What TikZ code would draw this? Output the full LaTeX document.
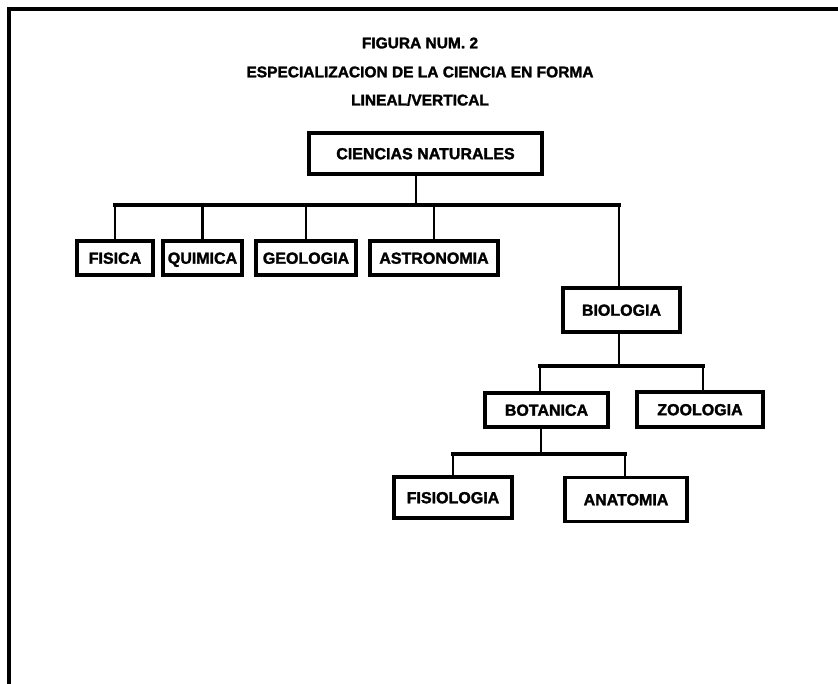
\documentclass[tikz,border=0pt]{standalone}
\usepackage{fontspec}
\setmainfont[BoldFeatures={FakeBold=1.8}]{Liberation Sans}
\begin{document}
\begin{tikzpicture}[x=1pt,y=-1pt,
  frameline/.style={line width=3.2pt},
  titletext/.style={font=\bfseries\fontsize{15.5}{18}\selectfont, inner sep=0pt},
  box/.style={draw, line width=3.4pt, font=\bfseries\fontsize{16}{19}\selectfont, inner sep=0pt, text height=11.5pt, text depth=0pt, anchor=center},
  vline/.style={line width=2.8pt},
  hline/.style={line width=3.8pt, line cap=rect}]
\useasboundingbox (0,0) rectangle (838,684);
% frame
\draw[frameline] (9,684) -- (9,9) -- (838,9);
% title
\node[titletext] (t1) at (420,43) {FIGURA NUM. 2};
\node[titletext] (t2) at (420,72) {ESPECIALIZACION DE LA CIENCIA EN FORMA};
\node[titletext] (t3) at (420,100) {LINEAL/VERTICAL};
% boxes
\node[box, minimum width=233pt, minimum height=41pt] (cn) at (425.5,153.5) {CIENCIAS NATURALES};
\node[box, minimum width=76pt, minimum height=34pt] (fis) at (115,258) {FISICA};
\node[box, minimum width=79pt, minimum height=34pt] (qui) at (202.5,258) {QUIMICA};
\node[box, minimum width=100pt, minimum height=34pt] (geo) at (306,258) {GEOLOGIA};
\node[box, minimum width=128pt, minimum height=34pt] (ast) at (434,258) {ASTRONOMIA};
\node[box, minimum width=117pt, minimum height=44pt] (bio) at (621.5,310) {BIOLOGIA};
\node[box, minimum width=123pt, minimum height=34pt] (bot) at (546.5,410) {BOTANICA};
\node[box, minimum width=126pt, minimum height=35pt] (zoo) at (700,409.5) {ZOOLOGIA};
\node[box, minimum width=118pt, minimum height=41pt] (fisio) at (453,497.5) {FISIOLOGIA};
\node[box, minimum width=122pt, minimum height=44pt] (ana) at (626,499.5) {ANATOMIA};
% junctions
\coordinate (j1) at (416,205);
\coordinate (j2) at (619,366);
\coordinate (j3) at (541,454);
\coordinate (j1r) at (619,205);
% level 1
\draw[vline] (cn.south -| j1) -- (j1);
\draw[hline] (fis.north |- j1) -- (j1r);
\draw[vline] (fis.north) -- (fis.north |- j1);
\draw[vline] (qui.north) -- (qui.north |- j1);
\draw[vline] (geo.north) -- (geo.north |- j1);
\draw[vline] (ast.north) -- (ast.north |- j1);
\draw[vline] (bio.north -| j1r) -- (j1r);
% level 2
\draw[vline] (bio.south -| j2) -- (j2);
\draw[hline] ([xshift=-6.5pt]bot.north |- j2) -- ([xshift=3pt]zoo.north |- j2);
\draw[vline] ([xshift=-6.5pt]bot.north) -- ([xshift=-6.5pt]bot.north |- j2);
\draw[vline] ([xshift=3pt]zoo.north) -- ([xshift=3pt]zoo.north |- j2);
% level 3
\draw[vline] (bot.south -| j3) -- (j3);
\draw[hline] (fisio.north |- j3) -- ([xshift=-1pt]ana.north |- j3);
\draw[vline] (fisio.north) -- (fisio.north |- j3);
\draw[vline] ([xshift=-1pt]ana.north) -- ([xshift=-1pt]ana.north |- j3);
\end{tikzpicture}
\end{document}
